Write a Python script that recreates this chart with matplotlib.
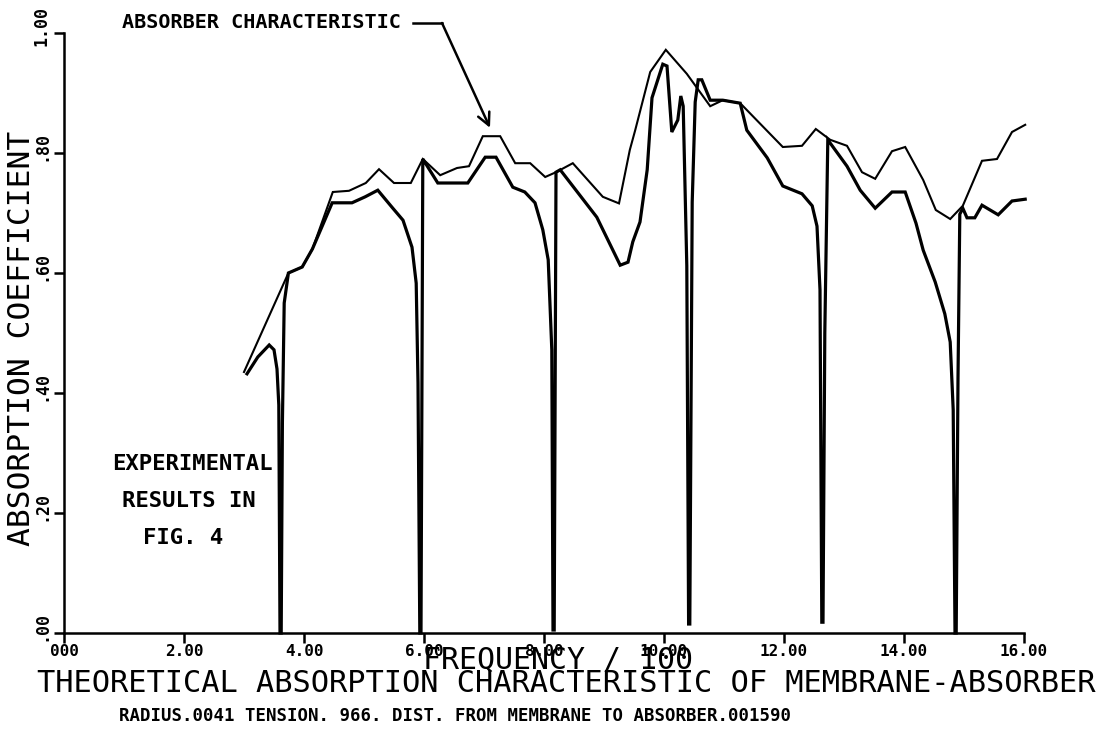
import matplotlib
matplotlib.use("Agg")
import matplotlib.pyplot as plt
from matplotlib.transforms import ScaledTranslation

# ---------------- data ----------------
freq_absorber = [3.0, 3.74, 3.97, 4.14, 4.48, 4.75, 5.03, 5.25, 5.5, 5.78, 5.98, 6.27, 6.55, 6.75,
                 6.98, 7.27, 7.52, 7.77, 8.02, 8.2, 8.48, 8.98, 9.25, 9.43, 9.52, 9.77, 10.03,
                 10.38, 10.77, 10.98, 11.27, 11.98, 12.3, 12.53, 12.77, 13.05, 13.3, 13.52, 13.8,
                 14.02, 14.32, 14.53, 14.77, 14.98, 15.3, 15.55, 15.8, 16.02]
abs_absorber = [0.435, 0.60, 0.61, 0.64, 0.735, 0.737, 0.75, 0.773, 0.75, 0.75, 0.79, 0.763, 0.775, 0.778,
                0.828, 0.828, 0.783, 0.783, 0.76, 0.768, 0.783, 0.727, 0.716, 0.805, 0.838, 0.935, 0.972,
                0.932, 0.878, 0.888, 0.883, 0.81, 0.812, 0.84, 0.822, 0.812, 0.768, 0.757, 0.803,
                0.81, 0.755, 0.705, 0.69, 0.712, 0.787, 0.79, 0.835, 0.847]

freq_membrane = [3.05, 3.23, 3.42, 3.5, 3.55, 3.58, 3.6, 3.62, 3.64, 3.67, 3.74, 3.97, 4.14, 4.47,
                 4.8, 5.02, 5.23, 5.48, 5.65, 5.8, 5.87, 5.9, 5.93, 5.95, 5.98, 6.23, 6.73, 7.02,
                 7.2, 7.48, 7.68, 7.85, 7.98, 8.07, 8.13, 8.15, 8.17, 8.2, 8.27, 8.88, 9.27, 9.4,
                 9.48, 9.6, 9.72, 9.8, 9.98, 10.05, 10.13, 10.23, 10.28, 10.32, 10.38, 10.41, 10.43,
                 10.47, 10.52, 10.57, 10.63, 10.77, 10.98, 11.27, 11.38, 11.72, 11.98, 12.3, 12.47,
                 12.55, 12.6, 12.63, 12.65, 12.68, 12.73, 13.05, 13.27, 13.52, 13.8, 14.02, 14.2,
                 14.32, 14.52, 14.68, 14.77, 14.82, 14.85, 14.87, 14.9, 14.93, 14.98, 15.05, 15.18,
                 15.3, 15.57, 15.8, 16.02]
abs_membrane = [0.432, 0.46, 0.48, 0.472, 0.44, 0.38, 0.0, 0.0, 0.35, 0.55, 0.60, 0.61, 0.64, 0.717,
                0.717, 0.727, 0.738, 0.708, 0.688, 0.643, 0.583, 0.417, 0.0, 0.0, 0.79, 0.75, 0.75, 0.793,
                0.793, 0.743, 0.735, 0.717, 0.672, 0.622, 0.472, 0.005, 0.005, 0.768, 0.772, 0.693, 0.613, 0.618,
                0.652, 0.685, 0.772, 0.892, 0.948, 0.945, 0.835, 0.855, 0.895, 0.878, 0.612, 0.015, 0.015,
                0.718, 0.885, 0.922, 0.922, 0.888, 0.888, 0.883, 0.838, 0.792, 0.745, 0.732, 0.712,
                0.678, 0.572, 0.018, 0.018, 0.5, 0.822, 0.778, 0.738, 0.708, 0.735, 0.735, 0.683,
                0.638, 0.585, 0.532, 0.485, 0.372, 0.0, 0.0, 0.425, 0.698, 0.708, 0.692, 0.692,
                0.713, 0.697, 0.72, 0.723]

x_ticks = [0, 2, 4, 6, 8, 10, 12, 14, 16]
x_tick_labels = ["000", "2.00", "4.00", "6.00", "8.00", "10.00", "12.00", "14.00", "16.00"]
y_ticks = [0.0, 0.2, 0.4, 0.6, 0.8, 1.0]
y_tick_labels = [".00", ".20", ".40", ".60", ".80", "1.00"]

# ---------------- figure ----------------
W, H = 1113, 751
fig = plt.figure(figsize=(W / 100, H / 100), dpi=100)
fig.patch.set_facecolor("white")

ax_left, ax_right, ax_bottom, ax_top = 64, 1024, 633, 33
ax = fig.add_axes([ax_left / W, 1 - ax_bottom / H, (ax_right - ax_left) / W, (ax_bottom - ax_top) / H])

mono = "DejaVu Sans Mono"

ax.plot(freq_absorber, abs_absorber, color="black", lw=1.5, clip_on=False, solid_joinstyle="miter")
ax.plot(freq_membrane, abs_membrane, color="black", lw=2.3, clip_on=False, solid_joinstyle="miter")

ax.set_xlim(0, 16)
ax.set_ylim(0, 1.0)
for s in ["top", "right"]:
    ax.spines[s].set_visible(False)
for s in ["left", "bottom"]:
    ax.spines[s].set_linewidth(1.8)
    ax.spines[s].set_color("black")

ax.set_xticks(x_ticks)
ax.set_xticklabels(x_tick_labels, family=mono, fontweight="bold", fontsize=11.5)
ax.set_yticks(y_ticks)
ax.set_yticklabels(y_tick_labels, family=mono, fontweight="bold", fontsize=12,
                   rotation=90, va="center")
ax.tick_params(axis="both", direction="out", length=7, width=1.8, color="black")
ax.tick_params(axis="x", pad=1)
ax.tick_params(axis="y", pad=3)
for lab in ax.get_yticklabels():
    lab.set_transform(lab.get_transform() + ScaledTranslation(0, 0.07, fig.dpi_scale_trans))

# axis labels
fig.text(22 / W, 1 - 338 / H, "ABSORPTION COEFFICIENT", rotation=90, family=mono,
         fontsize=22.5, ha="center", va="center")
fig.text(558 / W, 1 - 660 / H, "FREQUENCY / 100", family=mono, fontsize=21.5,
         ha="center", va="center")

# titles
fig.text(566 / W, 1 - 683 / H, "THEORETICAL ABSORPTION CHARACTERISTIC OF MEMBRANE-ABSORBER",
         family=mono, fontsize=21.9, ha="center", va="center")
fig.text(455 / W, 1 - 716 / H, "RADIUS.0041 TENSION. 966. DIST. FROM MEMBRANE TO ABSORBER.001590",
         family=mono, fontweight="bold", fontsize=12.5, ha="center", va="center")

# annotations
fig.text(122 / W, 1 - 23 / H, "ABSORBER CHARACTERISTIC", family=mono, fontweight="bold",
         fontsize=14.5, ha="left", va="center")
fig.add_artist(plt.Line2D([413 / W, 442 / W], [1 - 23 / H, 1 - 23 / H], color="black", lw=1.8))
ax.annotate("", xy=(7.1, 0.842), xycoords="data",
            xytext=(442 / W, 1 - 23 / H), textcoords="figure fraction",
            arrowprops=dict(arrowstyle="->", color="black", lw=1.8, mutation_scale=22,
                            shrinkA=0, shrinkB=0))

fig.text(112 / W, 1 - 464 / H, "EXPERIMENTAL", family=mono, fontweight="bold",
         fontsize=16, ha="left", va="center")
fig.text(122 / W, 1 - 501 / H, "RESULTS IN", family=mono, fontweight="bold",
         fontsize=16, ha="left", va="center")
fig.text(143 / W, 1 - 538 / H, "FIG. 4", family=mono, fontweight="bold",
         fontsize=16, ha="left", va="center")

fig.savefig("out.png", dpi=100, facecolor="white")
